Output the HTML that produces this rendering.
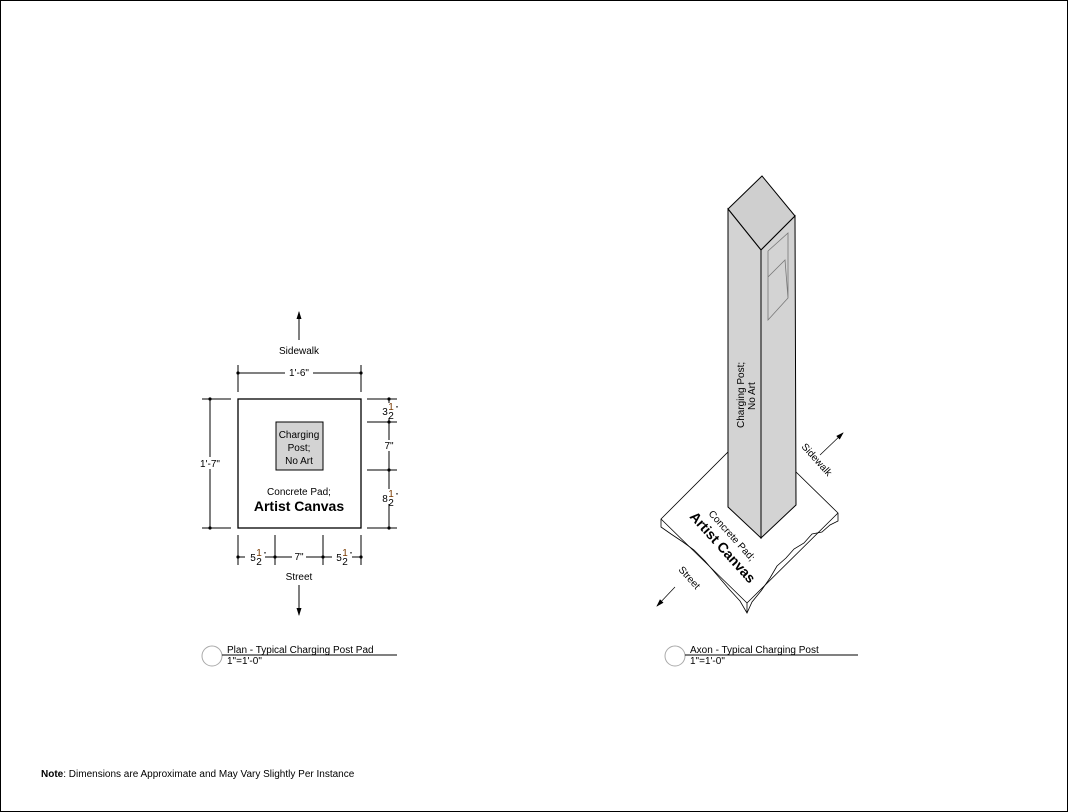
<!DOCTYPE html>
<html><head><style>
html,body{margin:0;padding:0;background:#fff;}
svg{display:block;font-family:"Liberation Sans",Arial,sans-serif;}
</style></head><body>
<svg width="1068" height="812" viewBox="0 0 1068 812" xmlns="http://www.w3.org/2000/svg">
<defs>
<marker id="ah" markerWidth="8" markerHeight="8" refX="7" refY="4" orient="auto" markerUnits="userSpaceOnUse"><path d="M0,1.5 L8,4 L0,6.5 Z" fill="#000"/></marker>
</defs>
<rect x="0.5" y="0.5" width="1067" height="811" fill="none" stroke="#000" stroke-width="1"/>

<!-- PLAN -->
<g stroke="#000" fill="none" stroke-width="1">
<rect x="238" y="399" width="123" height="129" stroke-width="1.3"/>
<rect x="276" y="422" width="47" height="48" fill="#d3d3d3"/>
<line x1="238" y1="373" x2="361" y2="373"/>
<line x1="238" y1="365" x2="238" y2="392"/><line x1="361" y1="365" x2="361" y2="392"/>
<line x1="210" y1="399" x2="210" y2="528"/>
<line x1="202" y1="399" x2="231" y2="399"/><line x1="202" y1="528" x2="231" y2="528"/>
<line x1="389" y1="399" x2="389" y2="528"/>
<line x1="367" y1="399" x2="397" y2="399"/><line x1="367" y1="422" x2="397" y2="422"/>
<line x1="367" y1="470" x2="397" y2="470"/><line x1="367" y1="528" x2="397" y2="528"/>
<line x1="238" y1="557" x2="361" y2="557"/>
<line x1="238" y1="535" x2="238" y2="565"/><line x1="275" y1="535" x2="275" y2="565"/>
<line x1="323" y1="535" x2="323" y2="565"/><line x1="361" y1="535" x2="361" y2="565"/>
<line x1="299" y1="340" x2="299" y2="312" marker-end="url(#ah)"/>
<line x1="299" y1="585" x2="299" y2="615" marker-end="url(#ah)"/>
</g>
<g fill="#000">
<circle cx="238" cy="373" r="1.6"/><circle cx="361" cy="373" r="1.6"/>
<circle cx="210" cy="399" r="1.6"/><circle cx="210" cy="528" r="1.6"/>
<circle cx="389" cy="399" r="1.6"/><circle cx="389" cy="422" r="1.6"/><circle cx="389" cy="470" r="1.6"/><circle cx="389" cy="528" r="1.6"/>
<circle cx="238" cy="557" r="1.6"/><circle cx="275" cy="557" r="1.6"/><circle cx="323" cy="557" r="1.6"/><circle cx="361" cy="557" r="1.6"/>
</g>
<g font-size="10" fill="#000" text-anchor="middle">
<rect x="285" y="367" width="28" height="10" fill="#fff"/>
<text x="299" y="376">1'-6"</text>
<rect x="200" y="457" width="22" height="12" fill="#fff"/>
<text x="210" y="467">1'-7"</text>
<text x="299" y="354">Sidewalk</text>
<text x="299" y="580">Street</text>
<text x="299" y="438">Charging</text>
<text x="299" y="451">Post;</text>
<text x="299" y="464">No Art</text>
<text x="299" y="495">Concrete Pad;</text>
<text x="299" y="511" font-size="14" font-weight="bold">Artist Canvas</text>
<rect x="379" y="403" width="20" height="15" fill="#fff"/>
<text x="385" y="415">3</text><text x="391" y="410" font-size="10" fill="#7a3a00">1</text><text x="391" y="419" font-size="10">2</text><text x="397" y="411" font-size="7">"</text>
<rect x="382" y="440" width="14" height="11" fill="#fff"/>
<text x="389" y="449">7"</text>
<rect x="379" y="489" width="20" height="15" fill="#fff"/>
<text x="385" y="502">8</text><text x="391" y="497" font-size="10" fill="#7a3a00">1</text><text x="391" y="506" font-size="10">2</text><text x="397" y="498" font-size="7">"</text>
<rect x="245" y="549" width="20" height="15" fill="#fff"/>
<text x="253" y="561">5</text><text x="259" y="556" font-size="10" fill="#7a3a00">1</text><text x="259" y="565" font-size="10">2</text><text x="265" y="557" font-size="7">"</text>
<rect x="292" y="551" width="14" height="11" fill="#fff"/>
<text x="299" y="560">7"</text>
<rect x="332" y="549" width="20" height="15" fill="#fff"/>
<text x="339" y="561">5</text><text x="345" y="556" font-size="10" fill="#7a3a00">1</text><text x="345" y="565" font-size="10">2</text><text x="351" y="557" font-size="7">"</text>
</g>

<!-- AXON -->
<g stroke="#000" stroke-width="1">
<path d="M661,519 L728,452 L796,472 L838,513 L838,521 L830,525 L822,532 L812,534 L804,543 L794,549 L786,558 L777,566 L770,578 L761,591 L752,602 L747,613 L740,601 L729,589 L717,575 L705,561 L694,550 L683,542 L671,534 L661,527 Z" fill="#fff" stroke-width="0.8"/>
<path d="M661,519 L747,603 L838,513 M747,603 L747,613" fill="none" stroke-width="0.8"/>
<path d="M728,209 L762,176 L795,216 L761,250 Z" fill="#cfcfcf"/>
<path d="M728,209 L761,250 L761,538 L728,507 Z" fill="#d3d3d3"/>
<path d="M761,250 L795,216 L796,505 L761,538 Z" fill="#d3d3d3"/>
<path d="M768,251 L788,233 L788,298 L768,320 Z M768,277 L785,260 L788,298" fill="none" stroke="#777" stroke-width="0.8"/>
<line x1="820" y1="455" x2="843" y2="433" stroke-width="0.7" marker-end="url(#ah)"/>
<line x1="675" y1="587" x2="657" y2="606" stroke-width="0.7" marker-end="url(#ah)"/>
</g>
<g font-size="10" fill="#000">
<text transform="translate(744,428) rotate(-90)">Charging Post;</text>
<text transform="translate(755,410) rotate(-90)">No Art</text>
<text transform="translate(801,447) rotate(48)">Sidewalk</text>
<text transform="translate(678,570) rotate(48)">Street</text>
<text transform="translate(708,514) rotate(48)">Concrete Pad;</text>
<text transform="translate(689,517) rotate(48)" font-size="14" font-weight="bold">Artist Canvas</text>
</g>

<g font-size="10" fill="#000">
<circle cx="212" cy="656" r="10" fill="none" stroke="#aaa"/>
<line x1="222" y1="655" x2="397" y2="655" stroke="#000"/>
<text x="227" y="653">Plan - Typical Charging Post Pad</text>
<text x="227" y="664">1"=1'-0"</text>
<circle cx="675" cy="656" r="10" fill="none" stroke="#aaa"/>
<line x1="685" y1="655" x2="858" y2="655" stroke="#000"/>
<text x="690" y="653">Axon - Typical Charging Post</text>
<text x="690" y="664">1"=1'-0"</text>
<text x="41" y="777"><tspan font-weight="bold">Note</tspan>: Dimensions are Approximate and May Vary Slightly Per Instance</text>
</g>
</svg>
</body></html>
